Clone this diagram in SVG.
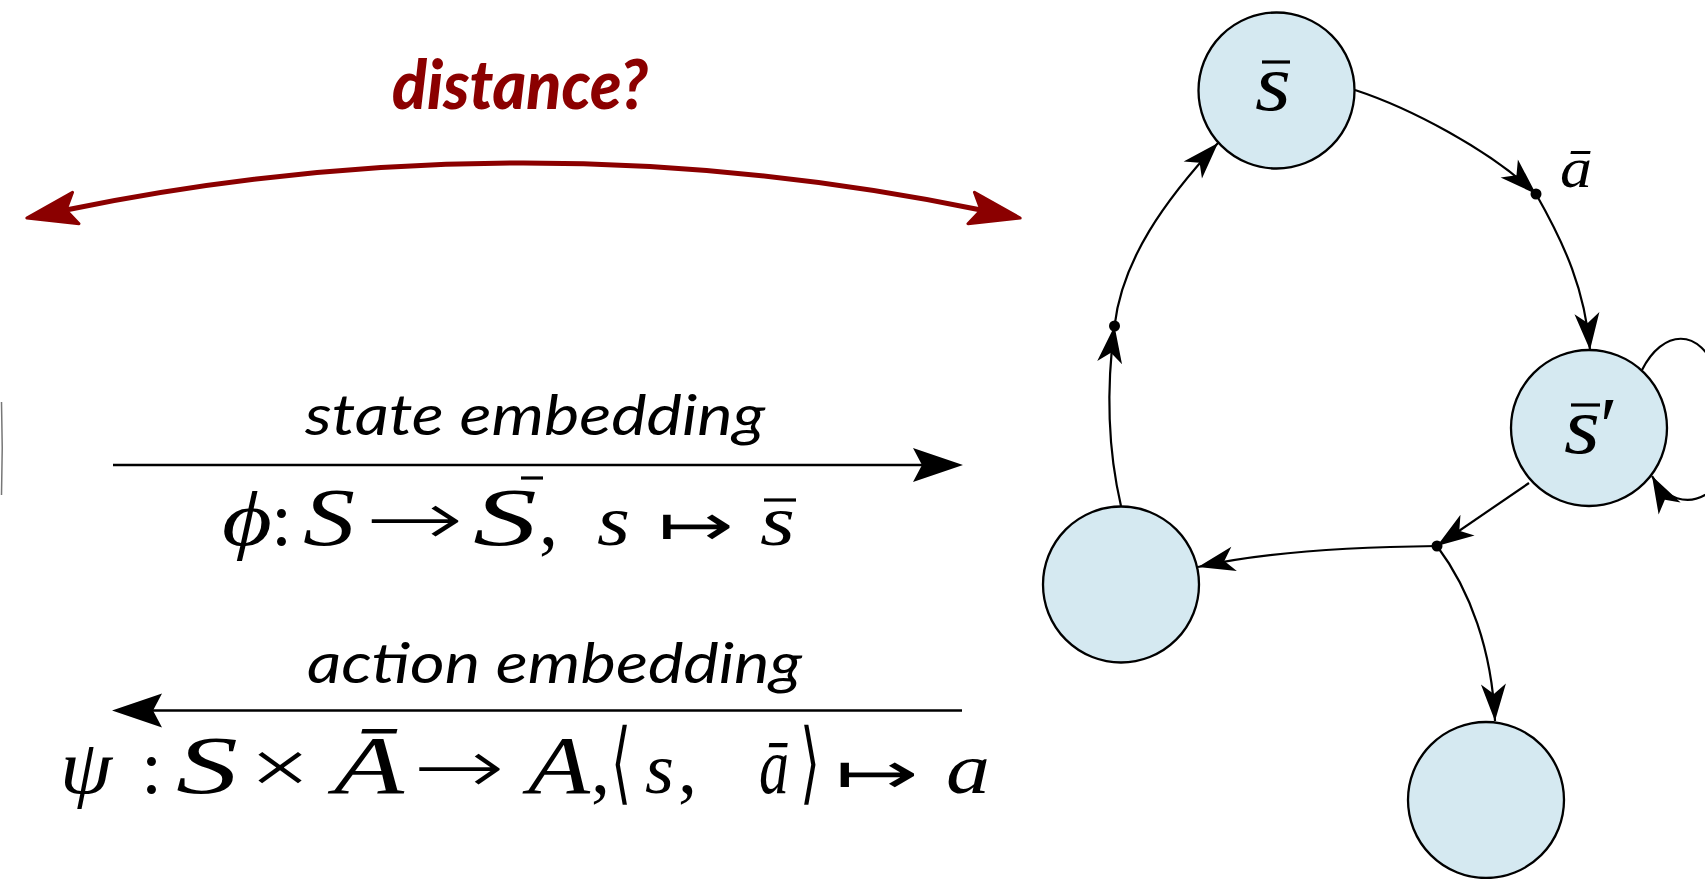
<svg xmlns="http://www.w3.org/2000/svg" width="1705" height="879" viewBox="0 0 1705 879">
  <style>
    .node { fill: #d5e9f1; stroke: #000; stroke-width: 2.3; }
    .edge { fill: none; stroke: #000; stroke-width: 2.2; }
    .dot { fill: #000; }
    .bar { stroke: #000; stroke-width: 3.2; }
    .label { font-family: "Lato", "Open Sans", sans-serif; font-style: italic; fill: #000; }
    .dist { font-family: "Lato", "Open Sans", sans-serif; font-style: italic; font-weight: 900; fill: #8b0000; }
    .math { font-family: "Liberation Serif", "DejaVu Serif", serif; fill: #000; }
    .it { font-style: italic; }
    .arr { font-family: "DejaVu Sans", sans-serif; font-weight: 200; }
    .maps { font-family: "DejaVu Sans", sans-serif; font-size: 58px; }
    .br { font-family: "DejaVu Sans", sans-serif; font-weight: 200; }
  </style>
  <defs>
    <marker id="redHead" markerUnits="userSpaceOnUse" orient="auto-start-reverse" refX="0" refY="0" markerWidth="60" markerHeight="40" overflow="visible">
      <path d="M40 0 L-10 -16 L0 0 L-10 16 Z" fill="#8b0000" stroke="#8b0000" stroke-width="3" stroke-linejoin="round"/>
    </marker>
    <marker id="bigHead" markerUnits="userSpaceOnUse" orient="auto-start-reverse" refX="0" refY="0" markerWidth="60" markerHeight="40" overflow="visible">
      <path d="M41 0 L-9 -17 L0 0 L-9 17 Z" fill="#000"/>
    </marker>
    <marker id="head" markerUnits="userSpaceOnUse" orient="auto" refX="0" refY="0" markerWidth="40" markerHeight="30" overflow="visible">
      <path d="M0 0 L-37 -12.5 L-27 0 L-37 12.5 Z" fill="#000"/>
    </marker>
  </defs>

  <!-- clipped mark at the left border -->
  <path d="M1.5 402 Q3 448 1.5 495" fill="none" stroke="#777" stroke-width="1.5"/>

  <g id="distance">
    <text class="dist" x="392" y="109" font-size="68" textLength="256" lengthAdjust="spacingAndGlyphs">distance?</text>
  </g>

  <g id="state-embedding">
    <text class="label" x="305" y="435" font-size="56" textLength="460" lengthAdjust="spacingAndGlyphs">state embedding</text>
    <g class="math" font-size="76">
      <text x="222" y="545" class="it" textLength="50" lengthAdjust="spacingAndGlyphs">ϕ</text>
      <text x="271" y="545">:</text>
      <text x="303" y="545" class="it" font-size="82" textLength="52" lengthAdjust="spacingAndGlyphs">S</text>
      <text x="365" y="545" class="arr" textLength="99" lengthAdjust="spacingAndGlyphs">→</text>
      <text x="473" y="545" class="it" font-size="82" textLength="64" lengthAdjust="spacingAndGlyphs">S</text>
      <line class="bar" x1="521" y1="478" x2="543" y2="478"/>
      <text x="539" y="545">,</text>
      <text x="597" y="545" class="it" font-size="72" textLength="33" lengthAdjust="spacingAndGlyphs">s</text>
      <text x="658" y="545" class="maps" textLength="76" lengthAdjust="spacingAndGlyphs">↦</text>
      <text x="760" y="545" class="it" font-size="72" textLength="35" lengthAdjust="spacingAndGlyphs">s</text>
      <line class="bar" x1="764" y1="500" x2="796" y2="500"/>
    </g>
  </g>

  <g id="action-embedding">
    <text class="label" x="307" y="683" font-size="56" textLength="495" lengthAdjust="spacingAndGlyphs">action embedding</text>
    <g class="math" font-size="76">
      <text x="60" y="793" class="it" textLength="52" lengthAdjust="spacingAndGlyphs">ψ</text>
      <text x="141" y="793">:</text>
      <text x="176" y="793" class="it" font-size="82" textLength="62" lengthAdjust="spacingAndGlyphs">S</text>
      <text x="250" y="793" textLength="60" lengthAdjust="spacingAndGlyphs">×</text>
      <text x="334" y="793" class="it" font-size="82" textLength="70" lengthAdjust="spacingAndGlyphs">Ā</text>
      <text x="413" y="793" class="arr" textLength="92" lengthAdjust="spacingAndGlyphs">→</text>
      <text x="528" y="793" class="it" font-size="82" textLength="62" lengthAdjust="spacingAndGlyphs">A</text>
      <text x="591" y="793">,</text>
      <text x="611" y="793" class="br" font-size="90" textLength="20" lengthAdjust="spacingAndGlyphs">⟨</text>
      <text x="645" y="793" class="it" font-size="72" textLength="29" lengthAdjust="spacingAndGlyphs">s</text>
      <text x="678" y="793">,</text>
      <text x="759" y="793" class="it" font-size="80" textLength="30" lengthAdjust="spacingAndGlyphs">ā</text>
      <text x="800" y="793" class="br" font-size="90" textLength="20" lengthAdjust="spacingAndGlyphs">⟩</text>
      <text x="835" y="793" class="maps" textLength="84" lengthAdjust="spacingAndGlyphs">↦</text>
      <text x="946" y="793" class="it" font-size="72" textLength="44" lengthAdjust="spacingAndGlyphs">a</text>
    </g>
  </g>

  <g id="n1">
    <circle class="node" cx="1276.5" cy="90.5" r="78"/>
    <text class="math it" x="1255" y="110" font-size="80" textLength="36" lengthAdjust="spacingAndGlyphs">s</text>
    <line class="bar" x1="1262" y1="62" x2="1290" y2="62"/>
  </g>
  <g id="n2">
    <circle class="node" cx="1589" cy="428" r="78"/>
    <text class="math it" x="1564" y="453" font-size="80" textLength="36" lengthAdjust="spacingAndGlyphs">s</text>
    <text class="math" x="1600" y="453" font-size="80">′</text>
    <line class="bar" x1="1571" y1="405" x2="1600" y2="405"/>
  </g>
  <g id="n3">
    <circle class="node" cx="1121" cy="584.5" r="78"/>
  </g>
  <g id="n4">
    <circle class="node" cx="1486" cy="800" r="78"/>
  </g>

  <g id="connectors">
    <path d="M66 210 Q523.5 116 981 210" fill="none" stroke="#8b0000" stroke-width="5" marker-start="url(#redHead)" marker-end="url(#redHead)"/>
    <line x1="113" y1="465" x2="922" y2="465" stroke="#000" stroke-width="2.5" marker-end="url(#bigHead)"/>
    <line x1="962" y1="710.5" x2="153" y2="710.5" stroke="#000" stroke-width="2.5" marker-end="url(#bigHead)"/>

    <path class="edge" d="M1355 90 C1410 108 1490 150 1536 194" marker-end="url(#head)"/>
    <path class="edge" d="M1536 194 C1565 245 1585 290 1590 350" marker-end="url(#head)"/>
    <path class="edge" d="M1642 370 C1662 330 1700 325 1718 375 C1735 420 1730 480 1705 495 C1688 505 1665 500 1652 476" marker-end="url(#head)"/>
    <path class="edge" d="M1529 483 L1437 546" marker-end="url(#head)"/>
    <path class="edge" d="M1437 546 C1350 547 1260 553 1198 567" marker-end="url(#head)"/>
    <path class="edge" d="M1437 546 C1470 590 1492 650 1495 721" marker-end="url(#head)"/>
    <path class="edge" d="M1121 506 C1108 450 1106 390 1114.5 326" marker-end="url(#head)"/>
    <path class="edge" d="M1114.5 326 C1122 260 1165 200 1218 143" marker-end="url(#head)"/>

    <circle class="dot" cx="1536" cy="194" r="5.5"/>
    <circle class="dot" cx="1437" cy="546" r="5.5"/>
    <circle class="dot" cx="1114.5" cy="326" r="5.5"/>
    <text class="math it" x="1560" y="187" font-size="56" textLength="32" lengthAdjust="spacingAndGlyphs">ā</text>
  </g>
</svg>
